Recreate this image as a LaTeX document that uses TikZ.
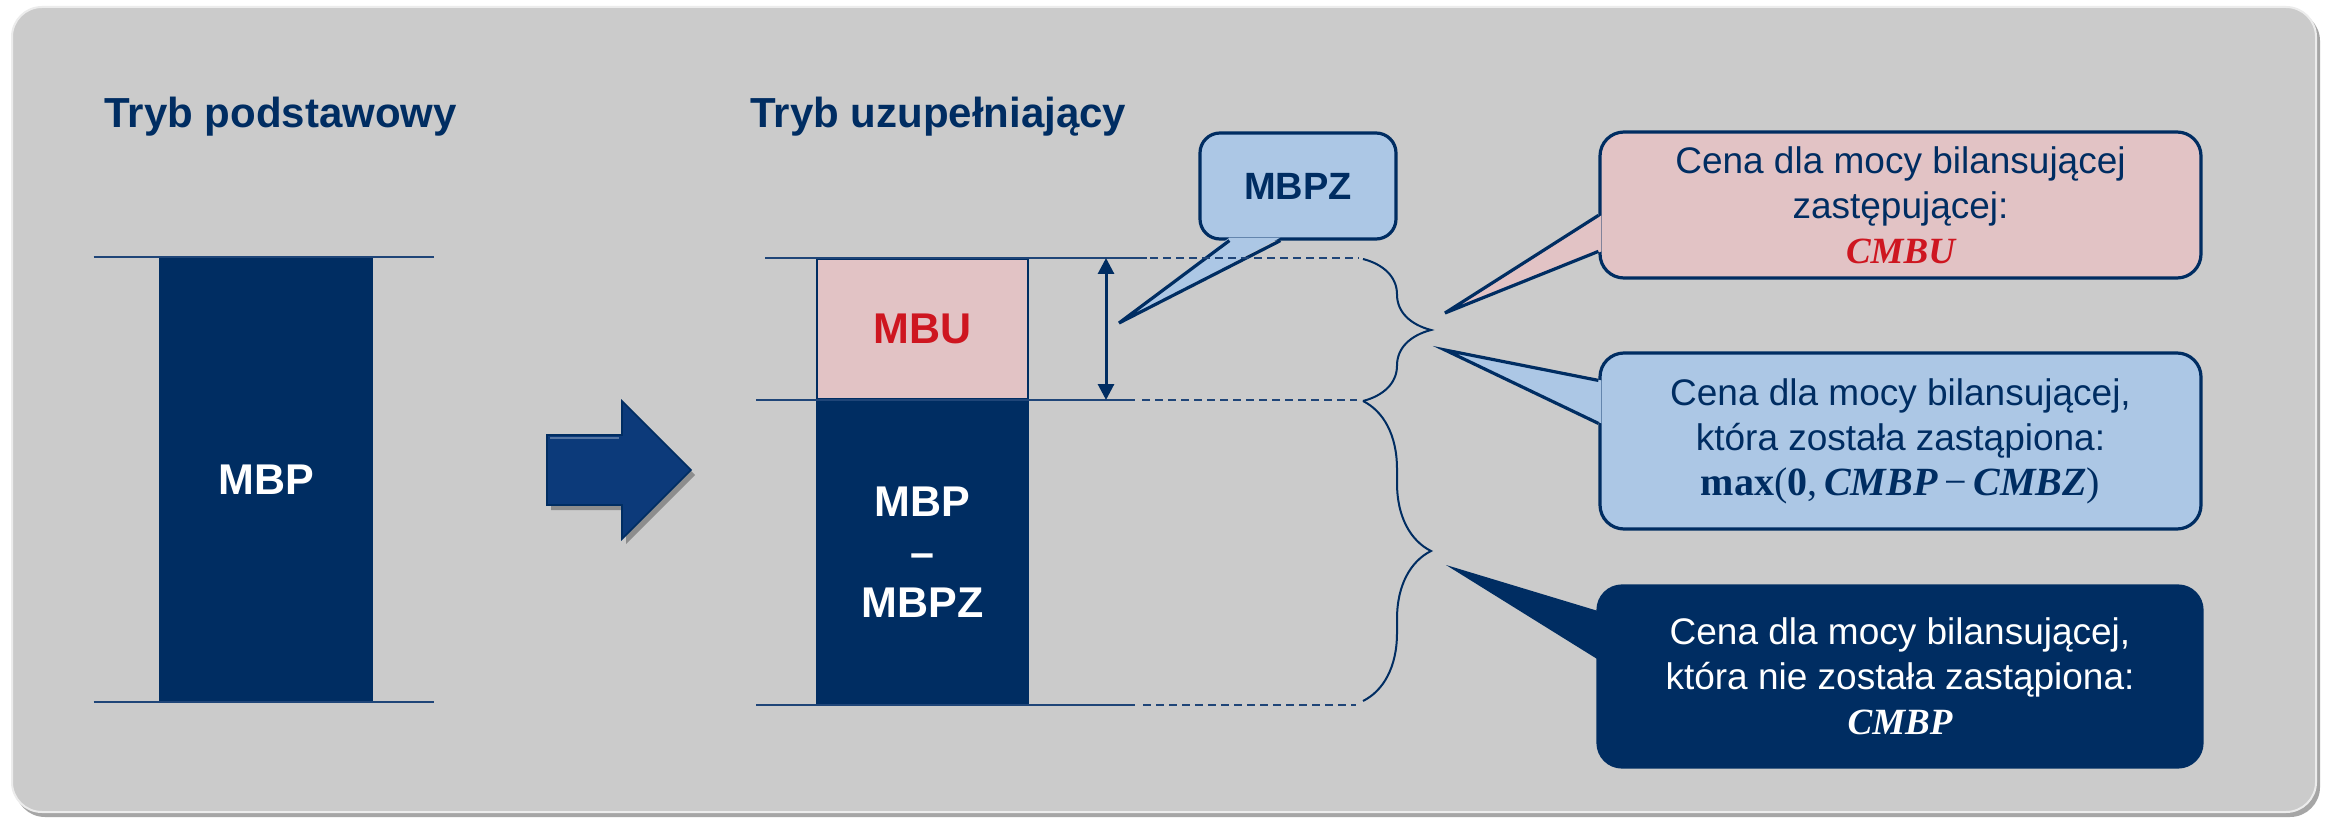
\documentclass[tikz,border=0pt]{standalone}
\usepackage[no-math]{fontspec}
\setmainfont{Liberation Sans}
\newfontfamily\wzor{Liberation Serif}
\usetikzlibrary{arrows.meta,calc,decorations.pathreplacing,positioning}
\definecolor{granat}{RGB}{0,45,98}
\definecolor{linia}{RGB}{31,69,120}
\definecolor{tlo}{RGB}{203,203,203}
\definecolor{roz}{RGB}{226,195,197}
\definecolor{blekit}{RGB}{172,199,229}
\definecolor{czerwien}{RGB}{206,22,32}
\definecolor{strzalka}{RGB}{12,58,122}

\begin{document}
\begin{tikzpicture}[x=0.5pt,y=-0.5pt]
    \tikzstyle{every node}+=[inner sep=0pt]
    \tikzstyle{tytul}=[anchor=base west, text=granat, font=\bfseries\fontsize{21}{25}\selectfont]
    \tikzstyle{slupek}=[fill=granat, text=white, align=center, font=\bfseries\fontsize{21.5}{25.25}\selectfont]
    \tikzstyle{poziom}=[linia, line width=1pt]
    \tikzstyle{kreski}=[linia, line width=1pt, dash pattern=on 4pt off 2.5pt]
    \tikzstyle{dymek}=[draw=granat, line width=1.6pt, rounded corners=12pt, align=center, text=granat, font=\fontsize{18.5}{22.5}\selectfont]
    \tikzstyle{dziob}=[granat, line width=1.6pt, line join=miter]
    \tikzstyle{klamra}=[granat, line width=1pt, decorate, decoration={brace, amplitude=34pt}]

    \useasboundingbox (0,0) rectangle (2329,818);
    \fill [white] (0,0) rectangle (2329,818);
    \fill [gray!70, rounded corners=15pt] (15,11) rectangle (2320,817);
    \filldraw [fill=tlo, draw=white!85!gray, line width=1pt, rounded corners=15pt] (12,7) rectangle (2316,812);

    \node [tytul] (podst) at (104,128) {Tryb podstawowy};
    \node [tytul] (uzup) at (750,128) {Tryb uzupełniający};

    \node [slupek, minimum width=107pt, minimum height=222.5pt] (mbp) at (266,479.5) {MBP};
    \draw [poziom] ($(mbp.north west)+(-65,0)$) -- ($(mbp.north east)+(61,0)$);
    \draw [poziom] ($(mbp.south west)+(-65,0)$) -- ($(mbp.south east)+(61,0)$);

    \fill [black, opacity=0.3, shift={(4,5)}] (547,435) -- (622,435) -- (622,401) -- (691,470) -- (622,539) -- (622,505) -- (547,505) -- cycle;
    \filldraw [fill=strzalka, draw=granat, line width=0.8pt] (547,435) -- (622,435) -- (622,401) -- (691,470) -- (622,539) -- (622,505) -- (547,505) -- cycle;
    \draw [strzalka!70!white, line width=1pt] (550,438) -- (619,438);

    \node [slupek, draw=granat, line width=1pt, fill=roz, text=czerwien, minimum width=105.5pt, minimum height=70pt] (mbu) at (922.5,329) {MBU};
    \node [slupek, draw=granat, line width=1pt, minimum width=105.5pt, minimum height=151.5pt, below=0pt of mbu] (reszta) {MBP\\–\\MBPZ};

    \coordinate (grotZ) at (1119,323);
    \node [dymek, fill=blekit, rounded corners=10pt, minimum width=98pt, minimum height=53pt, font=\bfseries\fontsize{19}{22}\selectfont] (mbpz) at (1298,186) {MBPZ};
    \fill [blekit] ($(mbpz.south west)+(31,-3)$) -- (grotZ) -- ($(mbpz.south west)+(82,-3)$) -- cycle;
    \draw [dziob] ($(mbpz.south west)+(31,0)$) -- (grotZ) -- ($(mbpz.south west)+(82,0)$);

    \draw [poziom] ($(mbu.north west)+(-51,0)$) -- ($(mbu.north east)+(118,0)$);
    \draw [kreski] ($(mbu.north east)+(121,0)$) -- ($(mbu.north east)+(330,0)$);
    \draw [poziom] ($(mbu.south west)+(-60,0)$) -- ($(mbu.south east)+(106,0)$);
    \draw [kreski] ($(mbu.south east)+(113,0)$) -- ($(mbu.south east)+(328,0)$);
    \draw [poziom] ($(reszta.south west)+(-60,0)$) -- ($(reszta.south east)+(106,0)$);
    \draw [kreski] ($(reszta.south east)+(114,0)$) -- ($(reszta.south east)+(327,0)$);

    \draw [granat, line width=1.5pt, {Triangle[length=8pt,width=8pt]}-{Triangle[length=8pt,width=8pt]}] ($(mbu.north east)+(77,0)$) -- ($(mbu.south east)+(77,0)$);

    \draw [klamra] (1363,259) -- (1363,401);
    \draw [klamra] (1363,401) -- (1363,701);

    \coordinate (grotU) at (1445,313);
    \node [dymek, fill=roz, minimum width=300.5pt, minimum height=73pt] (cenaU) at (1900.5,205) {Cena dla mocy bilansującej\\zastępującej:\\{\wzor\bfseries\itshape\color{czerwien}CMBU}};
    \fill [roz] ($(cenaU.north west)+(3,85)$) -- (grotU) -- ($(cenaU.north west)+(3,121)$) -- cycle;
    \draw [dziob] ($(cenaU.north west)+(0,85)$) -- (grotU) -- ($(cenaU.north west)+(0,121)$);

    \coordinate (grotZast) at (1445,350);
    \node [dymek, fill=blekit, minimum width=300.5pt, minimum height=88pt] (cenaZ) at (1900.5,441) {Cena dla mocy bilansującej,\\która została zastąpiona:\\{\wzor\fontsize{20}{22.5}\selectfont\textbf{max}(\textbf{0},\,\textbf{\textit{CMBP}}\,−\,\textbf{\textit{CMBZ}})}};
    \fill [blekit] ($(cenaZ.north west)+(3,29)$) -- (grotZast) -- ($(cenaZ.north west)+(3,72)$) -- cycle;
    \draw [dziob] ($(cenaZ.north west)+(0,29)$) -- (grotZast) -- ($(cenaZ.north west)+(0,72)$);

    \coordinate (grotP) at (1446,565);
    \node [dymek, fill=granat, text=white, minimum width=302pt, minimum height=90.5pt] (cenaP) at (1900,676.5) {Cena dla mocy bilansującej,\\która nie została zastąpiona:\\{\wzor\bfseries\itshape CMBP}};
    \fill [granat] ($(cenaP.north west)+(3,27)$) -- (grotP) -- ($(cenaP.north west)+(3,76)$) -- cycle;
\end{tikzpicture}
\end{document}
